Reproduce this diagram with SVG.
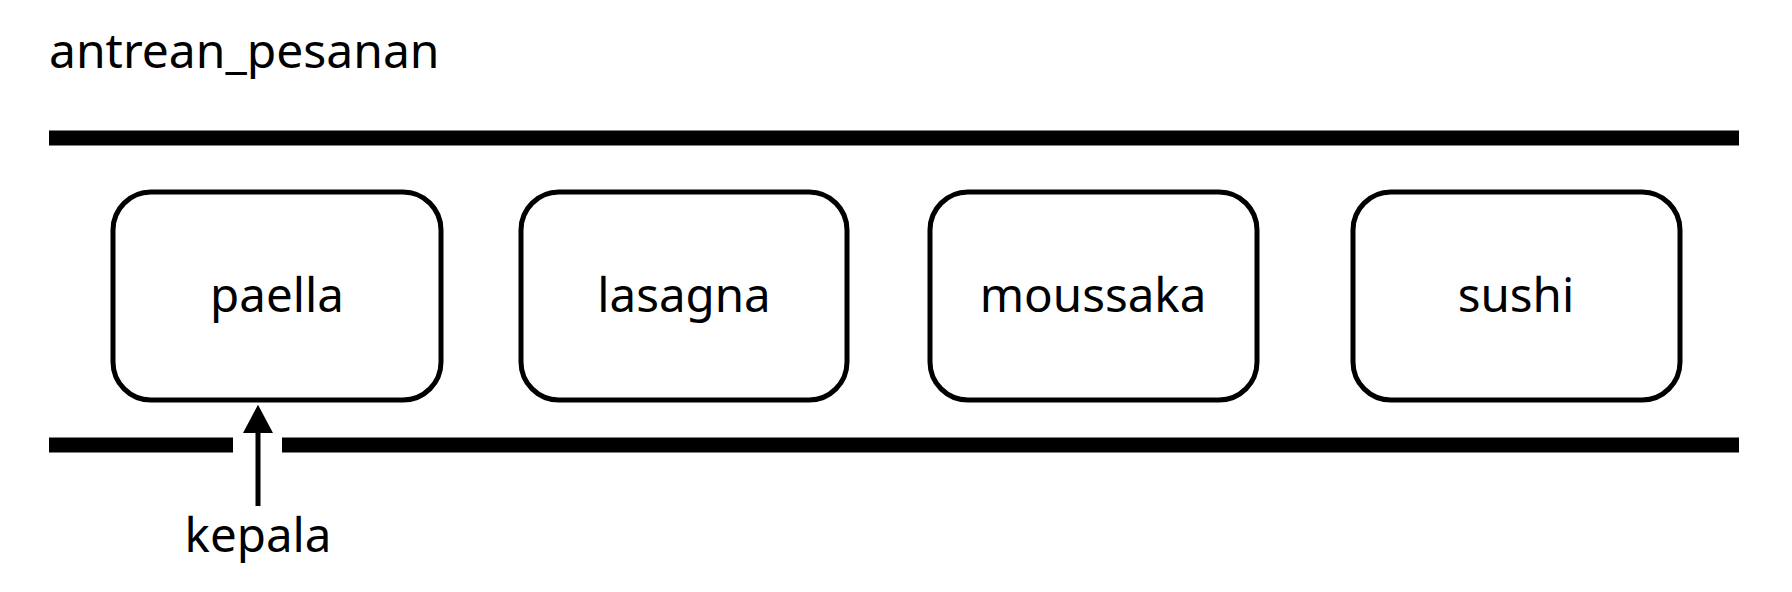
<svg xmlns="http://www.w3.org/2000/svg" width="1792" height="592" viewBox="0 0 1792 592">
<style>
.bg{fill:#ffffff}
.bar{stroke:#000;stroke-width:15;fill:none}
.node rect{fill:#fff;stroke:#000;stroke-width:5}
text{font-family:"Noto Sans","Open Sans","DejaVu Sans",sans-serif;fill:#000}
.lbl{font-size:47.5px;text-anchor:middle}
.title{font-size:48px}
.conn{stroke:#000;stroke-width:5;fill:none}
</style>
<defs>
<marker id="ah" markerWidth="32" markerHeight="30" refX="2" refY="16" orient="auto" markerUnits="userSpaceOnUse" viewBox="0 0 30 32">
<path d="M0,0 L30,16 L0,32 Z" fill="#000"/>
</marker>
</defs>
<rect class="bg" x="0" y="0" width="1792" height="592"/>
<text class="title" x="49" y="68">antrean_pesanan</text>
<g id="queue-walls">
<line class="bar" x1="49" y1="138" x2="1739" y2="138"/>
<line class="bar" x1="49" y1="445" x2="233" y2="445"/>
<line class="bar" x1="282" y1="445" x2="1739" y2="445"/>
</g>
<g id="node-paella" class="node">
<rect x="113" y="192" width="328" height="208" rx="38"/>
<text class="lbl" x="277" y="312">paella</text>
</g>
<g id="node-lasagna" class="node">
<rect x="521" y="192" width="326" height="208" rx="38"/>
<text class="lbl" x="684" y="312">lasagna</text>
</g>
<g id="node-moussaka" class="node">
<rect x="930" y="192" width="327" height="208" rx="38"/>
<text class="lbl" x="1093" y="312">moussaka</text>
</g>
<g id="node-sushi" class="node">
<rect x="1353" y="192" width="327" height="208" rx="38"/>
<text class="lbl" x="1516" y="312">sushi</text>
</g>
<g id="connectors">
<line class="conn" x1="258" y1="506" x2="258" y2="431" marker-end="url(#ah)"/>
</g>
<g id="label-kepala">
<text class="lbl" x="258" y="552">kepala</text>
</g>
</svg>
